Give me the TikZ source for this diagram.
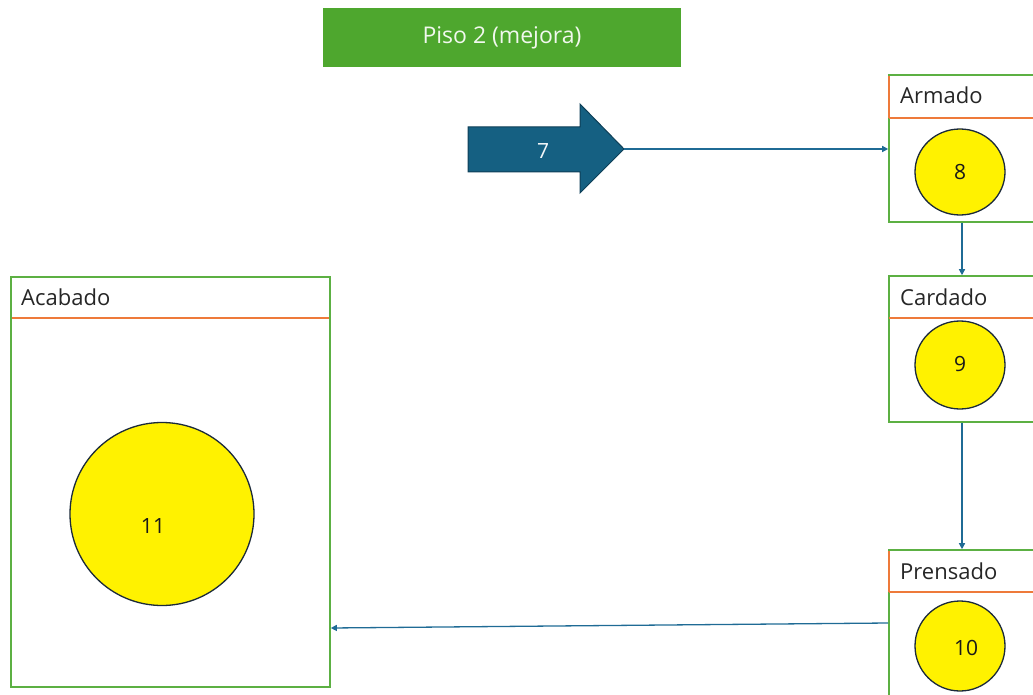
\documentclass[tikz,border=0pt]{standalone}
\usepackage{fontspec}
\setmainfont{Open Sans}
\usetikzlibrary{shapes.geometric,arrows.meta,calc}
\definecolor{bargreen}{HTML}{4EA72E}
\definecolor{boxgreen}{HTML}{5CB043}
\definecolor{hdrorange}{HTML}{EE7A3A}
\definecolor{flowblue}{HTML}{1F6B95}
\definecolor{arrowfill}{HTML}{156082}
\definecolor{arrowedge}{HTML}{0E3F57}
\definecolor{dotedge}{HTML}{1B2A3A}
\tikzset{
  x=1pt, y=-1pt,
  procbox/.style={draw=boxgreen, line width=1.6pt, fill=white, inner sep=0pt},
  hdrline/.style={draw=hdrorange, line width=1.6pt},
  hdrtext/.style={anchor=base west, font=\fontsize{22}{26}\selectfont, text=black!85, inner sep=0pt},
  dot/.style={ellipse, draw=dotedge, line width=1.3pt, fill=yellow, inner sep=0pt},
  numtext/.style={font=\fontsize{21}{24}\selectfont, text=black!90, inner sep=0pt},
  flow/.style={draw=flowblue, line width=1.3pt, -{Triangle[length=6pt,width=6pt]}},
}
\begin{document}
\begin{tikzpicture}
\useasboundingbox (0,0) rectangle (1033,695);
\clip (0,0) rectangle (1033,695);

% title bar
\node[fill=bargreen, minimum width=358pt, minimum height=59pt, inner sep=0pt,
      text=white!92!bargreen, font=\fontsize{23}{26}\selectfont] (title) at (502,37.5) {Piso 2 (mejora)};

% block arrow carrying batch 7
\filldraw[fill=arrowfill, draw=arrowedge, line width=1pt]
  (468,127) -- (580,127) -- (580,104) -- (624,149) -- (580,193) -- (580,172) -- (468,172) -- cycle;
\coordinate (tip7) at (624,149);
\node[numtext, text=white!95!arrowfill] (n7) at (543,151) {7};

% process boxes
\node[procbox, minimum width=151pt, minimum height=147pt] (armado) at (964.5,148.5) {};
\draw[hdrline] (889,118) -- (1040,118);
\draw[hdrline] (889,76) -- (889,118);
\node[hdrtext] (armadoT) at (900,104) {Armado};
\node[dot, minimum width=90pt, minimum height=86pt] (c8) at (960,172) {};
\node[numtext] (n8) at (960,172) {8};

\node[procbox, minimum width=151pt, minimum height=146pt] (cardado) at (964.5,349) {};
\draw[hdrline] (889,318) -- (1040,318);
\node[hdrtext] (cardadoT) at (900,305) {Cardado};
\node[dot, minimum width=90pt, minimum height=88pt] (c9) at (960,365) {};
\node[numtext] (n9) at (960,364) {9};

\node[procbox, minimum width=151pt, minimum height=160pt] (prensado) at (964.5,630) {};
\draw[hdrline] (889,592) -- (1040,592);
\draw[hdrline] (889,551) -- (889,592);
\node[hdrtext] (prensadoT) at (900,579) {Prensado};
\node[dot, minimum width=90pt, minimum height=90pt] (c10) at (960,646) {};
\node[numtext] (n10) at (966,648) {10};

\node[procbox, minimum width=319pt, minimum height=410pt] (acabado) at (170.5,482) {};
\draw[hdrline] (12,318) -- (329,318);
\node[hdrtext] (acabadoT) at (21,305) {Acabado};
\node[dot, minimum width=184pt, minimum height=183pt] (c11) at (162,514) {};
\node[numtext] (n11) at (153,526) {11};

% flow connectors
\draw[flow] (tip7) -- (armado.west |- tip7);
\draw[flow] ($(armado.south)+(-2.5,0)$) -- ($(cardado.north)+(-2.5,0)$);
\draw[flow] ($(cardado.south)+(-2.5,0)$) -- ($(prensado.north)+(-2.5,0)$);
\draw[flow] ($(prensado.west)+(0,-7)$) -- ($(acabado.east)+(0,146)$);
\end{tikzpicture}
\end{document}
